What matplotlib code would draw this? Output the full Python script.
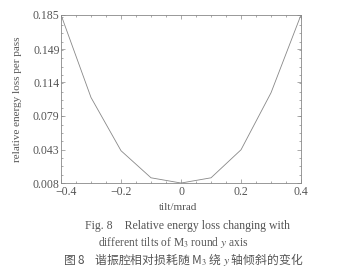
import numpy as np
import matplotlib.pyplot as plt
import matplotlib.transforms as mtransforms
from matplotlib.ticker import FixedLocator, AutoMinorLocator

# data
tilt = [-0.4, -0.3, -0.2, -0.1, 0.0, 0.1, 0.2, 0.3, 0.4]
loss = [0.185, 0.098, 0.042, 0.0135, 0.008, 0.0135, 0.043, 0.103, 0.185]

xticks = [-0.4, -0.2, 0, 0.2, 0.4]
xticklabels = ['\u22120.4', '\u22120.2', '0', '0.2', '0.4']
yticks = [0.008, 0.043, 0.079, 0.114, 0.149, 0.185]
yticklabels = ['0.008', '0.043', '0.079', '0.114', '0.149', '0.185']

plt.rcParams['font.family'] = ['Liberation Serif', 'DejaVu Serif']
plt.rcParams['mathtext.fontset'] = 'stix'
grey = '#555555'

fig = plt.figure(figsize=(3.53, 2.74), dpi=100)
ax = fig.add_axes([0.1728, 0.332, 0.680, 0.614])

ax.plot(tilt, loss, color='#888888', lw=0.6)

ax.set_xlim(-0.4, 0.4)
ax.set_ylim(0.008, 0.185)
ax.xaxis.set_major_locator(FixedLocator(xticks))
ax.set_xticklabels(xticklabels)
ax.yaxis.set_major_locator(FixedLocator(yticks))
ax.set_yticklabels(yticklabels)
ax.xaxis.set_minor_locator(AutoMinorLocator(4))
ax.yaxis.set_minor_locator(AutoMinorLocator(4))

ax.tick_params(which='both', direction='in', top=True, right=True,
               color='#888888', labelcolor=grey, labelsize=8.5, width=0.5)
ax.tick_params(which='major', length=3)
ax.tick_params(which='minor', length=1.5)
ax.tick_params(axis='x', pad=2)
ax.tick_params(axis='y', pad=1)
for s in ax.spines.values():
    s.set_color('#888888')
    s.set_linewidth(0.6)

# first x label sits a bit to the right, clear of 0.008
first = ax.get_xticklabels()[0]
first.set_transform(first.get_transform() +
                    mtransforms.ScaledTranslation(5 / 100, 0, fig.dpi_scale_trans))

ax.set_ylabel('relative energy loss per pass', color=grey, fontsize=8, labelpad=8)

fig.text(0.504, 1 - 207 / 274, 'tilt/mrad', ha='center', va='center',
         color=grey, fontsize=8)
fig.text(0.53, 1 - 226 / 274, 'Fig. 8    Relative energy loss changing with',
         ha='center', va='center', color=grey, fontsize=8.5)
fig.text(0.49, 1 - 243 / 274, r'different tilts of M$_3$ round $y$ axis',
         ha='center', va='center', color=grey, fontsize=8.3)
fig.text(0.52, 1 - 260 / 274, '图 8    谐振腔相对损耗随 M$_3$ 绕 $y$ 轴倾斜的变化',
         ha='center', va='center', color=grey, fontsize=8.5,
         family=['Noto Sans CJK SC', 'Liberation Serif'])

fig.savefig('out.png', dpi=100)
